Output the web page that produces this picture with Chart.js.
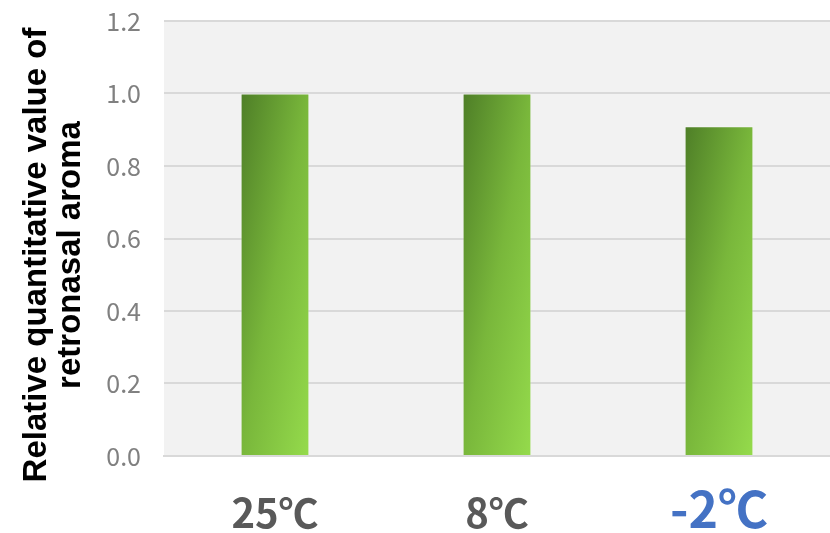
<!DOCTYPE html>
<html>
<head>
<meta charset="utf-8">
<style>
  html, body { margin: 0; padding: 0; background: #ffffff; }
  #wrap { width: 830px; height: 533px; }
</style>
<script src="https://cdn.jsdelivr.net/npm/chart.js@4.4.1/dist/chart.umd.min.js"></script>
</head>
<body>
<div id="wrap"><canvas id="c" width="830" height="533"></canvas></div>
<script>
// Serving temperatures and the relative retronasal aroma measured at each
const categories = ['25℃', '8℃', '-2℃'];
const aromaValues = [1.0, 1.0, 0.91];
const yTickValues = [0, 0.2, 0.4, 0.6, 0.8, 1.0, 1.2];
const yTitleLines = ['Relative quantitative value of', 'retronasal aroma'];

const BAR_FRACTION = 0.31;

// Diagonal green fill, scaled to each bar so the light corner sits bottom-right
function barFill(ctx) {
  const chart = ctx.chart;
  if (ctx.type !== 'data' || !chart.chartArea) return '#78b63a';
  const xs = chart.scales.x, ys = chart.scales.y;
  const cx = xs.getPixelForValue(ctx.dataIndex);
  const w = (chart.chartArea.right - chart.chartArea.left) / categories.length * BAR_FRACTION;
  const top = ys.getPixelForValue(ctx.raw);
  const bottom = ys.getPixelForValue(0);
  const h = bottom - top;
  const x0 = cx - w / 2;
  const k = 2 * w * h / (h * h + w * w);
  const g = chart.ctx.createLinearGradient(x0, top, x0 + h * k, top + w * k);
  g.addColorStop(0, '#4e7e27');
  g.addColorStop(0.5, '#79b73b');
  g.addColorStop(1, '#95db4c');
  return g;
}

// Light grey plotting panel behind the grid
const panelBackground = {
  id: 'panelBackground',
  beforeDraw(chart) {
    const a = chart.chartArea, c = chart.ctx;
    c.save();
    c.fillStyle = '#f2f2f2';
    c.fillRect(a.left, a.top, a.right - a.left, a.bottom - a.top);
    c.restore();
  }
};

// Two-line rotated value-axis title
const valueAxisTitle = {
  id: 'valueAxisTitle',
  afterDraw(chart) {
    const c = chart.ctx;
    c.save();
    c.fillStyle = '#000000';
    c.font = 'bold 33px "Liberation Sans", Arial, sans-serif';
    c.textAlign = 'center';
    c.textBaseline = 'alphabetic';
    const baselines = [46, 80];
    yTitleLines.forEach((line, i) => {
      c.save();
      c.translate(baselines[i], 255);
      c.rotate(-Math.PI / 2);
      c.fillText(line, 0, 0);
      c.restore();
    });
    c.restore();
  }
};

const highlightIndex = categories.length - 1;

new Chart(document.getElementById('c'), {
  type: 'bar',
  data: {
    labels: categories,
    datasets: [{
      data: aromaValues,
      backgroundColor: barFill,
      borderColor: 'rgba(255,255,255,0.35)',
      borderWidth: 1,
      borderSkipped: 'bottom',
      barPercentage: BAR_FRACTION,
      categoryPercentage: 1.0
    }]
  },
  options: {
    responsive: false,
    animation: false,
    devicePixelRatio: 1,
    layout: { padding: { top: 21, right: 0, bottom: 0, left: 0 } },
    plugins: {
      legend: { display: false },
      tooltip: { enabled: false },
      title: { display: false }
    },
    scales: {
      x: {
        grid: { display: false, drawTicks: false },
        border: { display: true, color: '#d9d9d9', width: 2 },
        ticks: {
          padding: 0,
          autoSkip: false,
          maxRotation: 0,
          color: (ctx) => ctx.index === highlightIndex ? '#4472c4' : '#595959',
          font: (ctx) => ctx.index === highlightIndex
            ? { family: '"Noto Sans CJK JP", "Noto Sans", sans-serif', size: 50, weight: 'bold', lineHeight: '106px' }
            : { family: '"Noto Sans CJK JP", "Noto Sans", sans-serif', size: 40, weight: 'bold', lineHeight: '114px' }
        },
        afterFit(scale) {
          scale.height = 77;
          scale.paddingLeft = 0;
          scale.paddingRight = 0;
        }
      },
      y: {
        min: 0,
        max: 1.2,
        afterBuildTicks(scale) { scale.ticks = yTickValues.map(v => ({ value: v })); },
        grid: { color: '#d9d9d9', lineWidth: 2, drawTicks: false },
        border: { display: false },
        ticks: {
          padding: 23,
          color: '#808080',
          font: { family: '"Noto Sans CJK JP", "Noto Sans", sans-serif', size: 25 },
          callback: (v) => Number(v).toFixed(1)
        },
        afterFit(scale) {
          scale.width = 164;
          scale.paddingTop = 0;
          scale.paddingBottom = 0;
        }
      }
    }
  },
  plugins: [panelBackground, valueAxisTitle]
});
</script>
</body>
</html>
